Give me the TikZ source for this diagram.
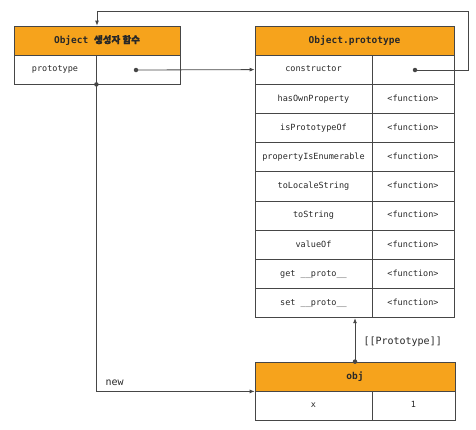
\documentclass[tikz,border=0pt]{standalone}
\usepackage{fontspec}
\setmonofont{DejaVu Sans Mono}
\newfontfamily\kr{Noto Sans CJK KR}[FakeBold=1.2]
\usetikzlibrary{arrows.meta,calc}
\definecolor{hdr}{RGB}{246,163,28}
\definecolor{ln}{RGB}{70,70,70}
\definecolor{tx}{RGB}{40,40,40}
\tikzset{
  cell/.style={draw=ln, line width=0.8pt, inner sep=0pt, minimum height=29.2pt, text=tx, text height=6.5pt, text depth=1.8pt, font=\ttfamily\fontsize{8.5}{10}\selectfont},
  hcell/.style={cell, fill=hdr, minimum height=29pt, text height=7.5pt, text depth=2pt, font=\ttfamily\bfseries\fontsize{9.5}{11}\selectfont},
  conn/.style={draw=ln, line width=0.8pt},
  arr/.style={conn, -{Latex[length=5pt,width=4pt]}},
  dotc/.style={circle, fill=ln, inner sep=0pt, minimum size=4.5pt},
  lbl/.style={text=tx, font=\ttfamily\fontsize{10}{12}\selectfont}
}
\begin{document}
\begin{tikzpicture}[x=1pt,y=-1pt]
\useasboundingbox (0,0) rectangle (476,429);
% left box
\node[hcell, minimum width=166pt] (lh) at (97,40.5) {Object {\kr 생성자 함수}};
\node[cell, minimum width=82pt, minimum height=29pt] (lp) at (55,69.5) {prototype};
\node[cell, minimum width=84pt, minimum height=29pt] (lv) at (138,69.5) {};
% right box
\node[hcell, minimum width=199pt] (rh) at (354.5,40.5) {Object.prototype};
\foreach \i/\k/\v in {1/constructor/{},2/hasOwnProperty/<function>,3/isPrototypeOf/<function>,4/propertyIsEnumerable/<function>,5/toLocaleString/<function>,6/toString/<function>,7/valueOf/<function>,8/get \_\_proto\_\_/<function>,9/set \_\_proto\_\_/<function>}{
  \node[cell, minimum width=117pt] (rk\i) at (313.5,{55+29.2*(\i-0.5)}) {\k};
  \node[cell, minimum width=82pt] (rv\i) at (413,{55+29.2*(\i-0.5)}) {\v};
}
% obj
\node[hcell, minimum width=200pt] (oh) at (355,376.5) {obj};
\node[cell, minimum width=117pt, minimum height=29pt] (ok) at (313.5,405.5) {x};
\node[cell, minimum width=83pt, minimum height=29pt] (ov) at (413.5,405.5) {1};
% dots
\node[dotc] (d1) at (136,70) {};
\node[dotc] (d2) at (415,70) {};
\node[dotc] (d3) at (lp.south east) {};
\node[dotc] (d4) at (oh.north) {};
\coordinate (c1) at (468,11);
% connectors
\draw[arr] (d1.center) -- (rk1.west);
\draw[arr] (d2.center) -| (c1) -| (lh.north);
\draw[arr] (d3.center) |- (oh.south west);
\draw[arr] (d4.center) -- (d4.center |- rk9.south);
\node[lbl, anchor=west] (pl) at (360,342) {[[Prototype]]};
\node[lbl, anchor=south west] (nl) at (102,389) {new};
\end{tikzpicture}
\end{document}
